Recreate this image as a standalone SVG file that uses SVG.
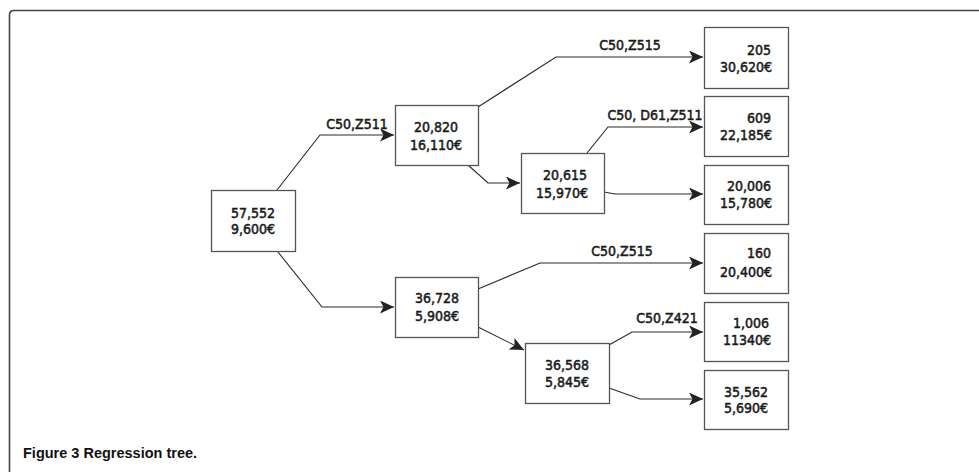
<svg xmlns="http://www.w3.org/2000/svg" width="979" height="472" viewBox="0 0 979 472">
<style>
.box{fill:#fff;stroke:#555;stroke-width:1.3}
.t{font-family:'DejaVu Sans Condensed','DejaVu Sans',sans-serif;font-stretch:condensed;font-size:14px;fill:#1a1a1a;stroke:#1a1a1a;stroke-width:0.5}
.c{text-anchor:middle}
.r{text-anchor:end}
.edge{fill:none;stroke:#2a2a2a;stroke-width:1.1}
.cap{font-family:'Liberation Sans',Arial,sans-serif;font-weight:bold;font-size:14.5px;fill:#111}
</style>
<defs>
<marker id="ah" markerUnits="userSpaceOnUse" markerWidth="15" markerHeight="13" refX="14" refY="6.5" orient="auto">
<path d="M0,0 L14,6.5 L0,13 L3.5,6.5 z" fill="#222"/>
</marker>
</defs>
<rect width="979" height="472" fill="#fff"/>
<path d="M9.5,472 L9.5,15 Q9.5,10.5 14,10.5 L979,10.5" fill="none" stroke="#444" stroke-width="1.6"/>
<g id="connectors">
<polyline class="edge" points="277,190 320,135 394,135" marker-end="url(#ah)"/>
<polyline class="edge" points="278,252 322,307 394,307" marker-end="url(#ah)"/>
<polyline class="edge" points="478,107 556,57 703,57" marker-end="url(#ah)"/>
<polyline class="edge" points="468,165 488,183 520,183" marker-end="url(#ah)"/>
<polyline class="edge" points="587,153 608,127 703,127" marker-end="url(#ah)"/>
<polyline class="edge" points="604,192 615,194 703,194" marker-end="url(#ah)"/>
<polyline class="edge" points="478,289 540,263 703,263" marker-end="url(#ah)"/>
<polyline class="edge" points="478,327 524,350" marker-end="url(#ah)"/>
<polyline class="edge" points="609,345 632,332 703,332" marker-end="url(#ah)"/>
<polyline class="edge" points="609,388 640,399 703,399" marker-end="url(#ah)"/>
<text class="t c" x="357" y="129">C50,Z511</text>
<text class="t c" x="630" y="50">C50,Z515</text>
<text class="t c" x="655" y="120">C50, D61,Z511</text>
<text class="t c" x="622" y="256">C50,Z515</text>
<text class="t c" x="667" y="323">C50,Z421</text>
</g>
<g id="n_root">
<rect class="box" x="211.5" y="190.5" width="84" height="61"/>
<text class="t c" x="253" y="218">57,552</text>
<text class="t c" x="253" y="234">9,600€</text>
</g>
<g id="n_20820">
<rect class="box" x="395.5" y="105.5" width="83" height="60"/>
<text class="t c" x="436" y="132">20,820</text>
<text class="t c" x="436" y="150">16,110€</text>
</g>
<g id="n_20615">
<rect class="box" x="521.5" y="153.5" width="83" height="60"/>
<text class="t r" x="587" y="180">20,615</text>
<text class="t r" x="588" y="198">15,970€</text>
</g>
<g id="n_36728">
<rect class="box" x="395.5" y="277.5" width="83" height="60"/>
<text class="t c" x="437" y="303">36,728</text>
<text class="t c" x="437" y="321">5,908€</text>
</g>
<g id="n_36568">
<rect class="box" x="525.5" y="343.5" width="84" height="60"/>
<text class="t c" x="567" y="370">36,568</text>
<text class="t c" x="567" y="387">5,845€</text>
</g>
<g id="n_205">
<rect class="box" x="704.5" y="27.5" width="84" height="61"/>
<text class="t r" x="771" y="55">205</text>
<text class="t r" x="772" y="72">30,620€</text>
</g>
<g id="n_609">
<rect class="box" x="704.5" y="96.5" width="84" height="60"/>
<text class="t r" x="771" y="123">609</text>
<text class="t r" x="772" y="140">22,185€</text>
</g>
<g id="n_20006">
<rect class="box" x="704.5" y="165.5" width="84" height="59"/>
<text class="t r" x="771" y="191">20,006</text>
<text class="t r" x="772" y="208">15,780€</text>
</g>
<g id="n_160">
<rect class="box" x="704.5" y="233.5" width="84" height="60"/>
<text class="t r" x="771" y="258">160</text>
<text class="t r" x="772" y="277">20,400€</text>
</g>
<g id="n_1006">
<rect class="box" x="704.5" y="302.5" width="84" height="59"/>
<text class="t r" x="769" y="328">1,006</text>
<text class="t r" x="771" y="345">11340€</text>
</g>
<g id="n_35562">
<rect class="box" x="704.5" y="370.5" width="84" height="59"/>
<text class="t c" x="746" y="397">35,562</text>
<text class="t c" x="746" y="413">5,690€</text>
</g>
<text class="cap" x="23" y="458">Figure 3 Regression tree.</text>
</svg>
